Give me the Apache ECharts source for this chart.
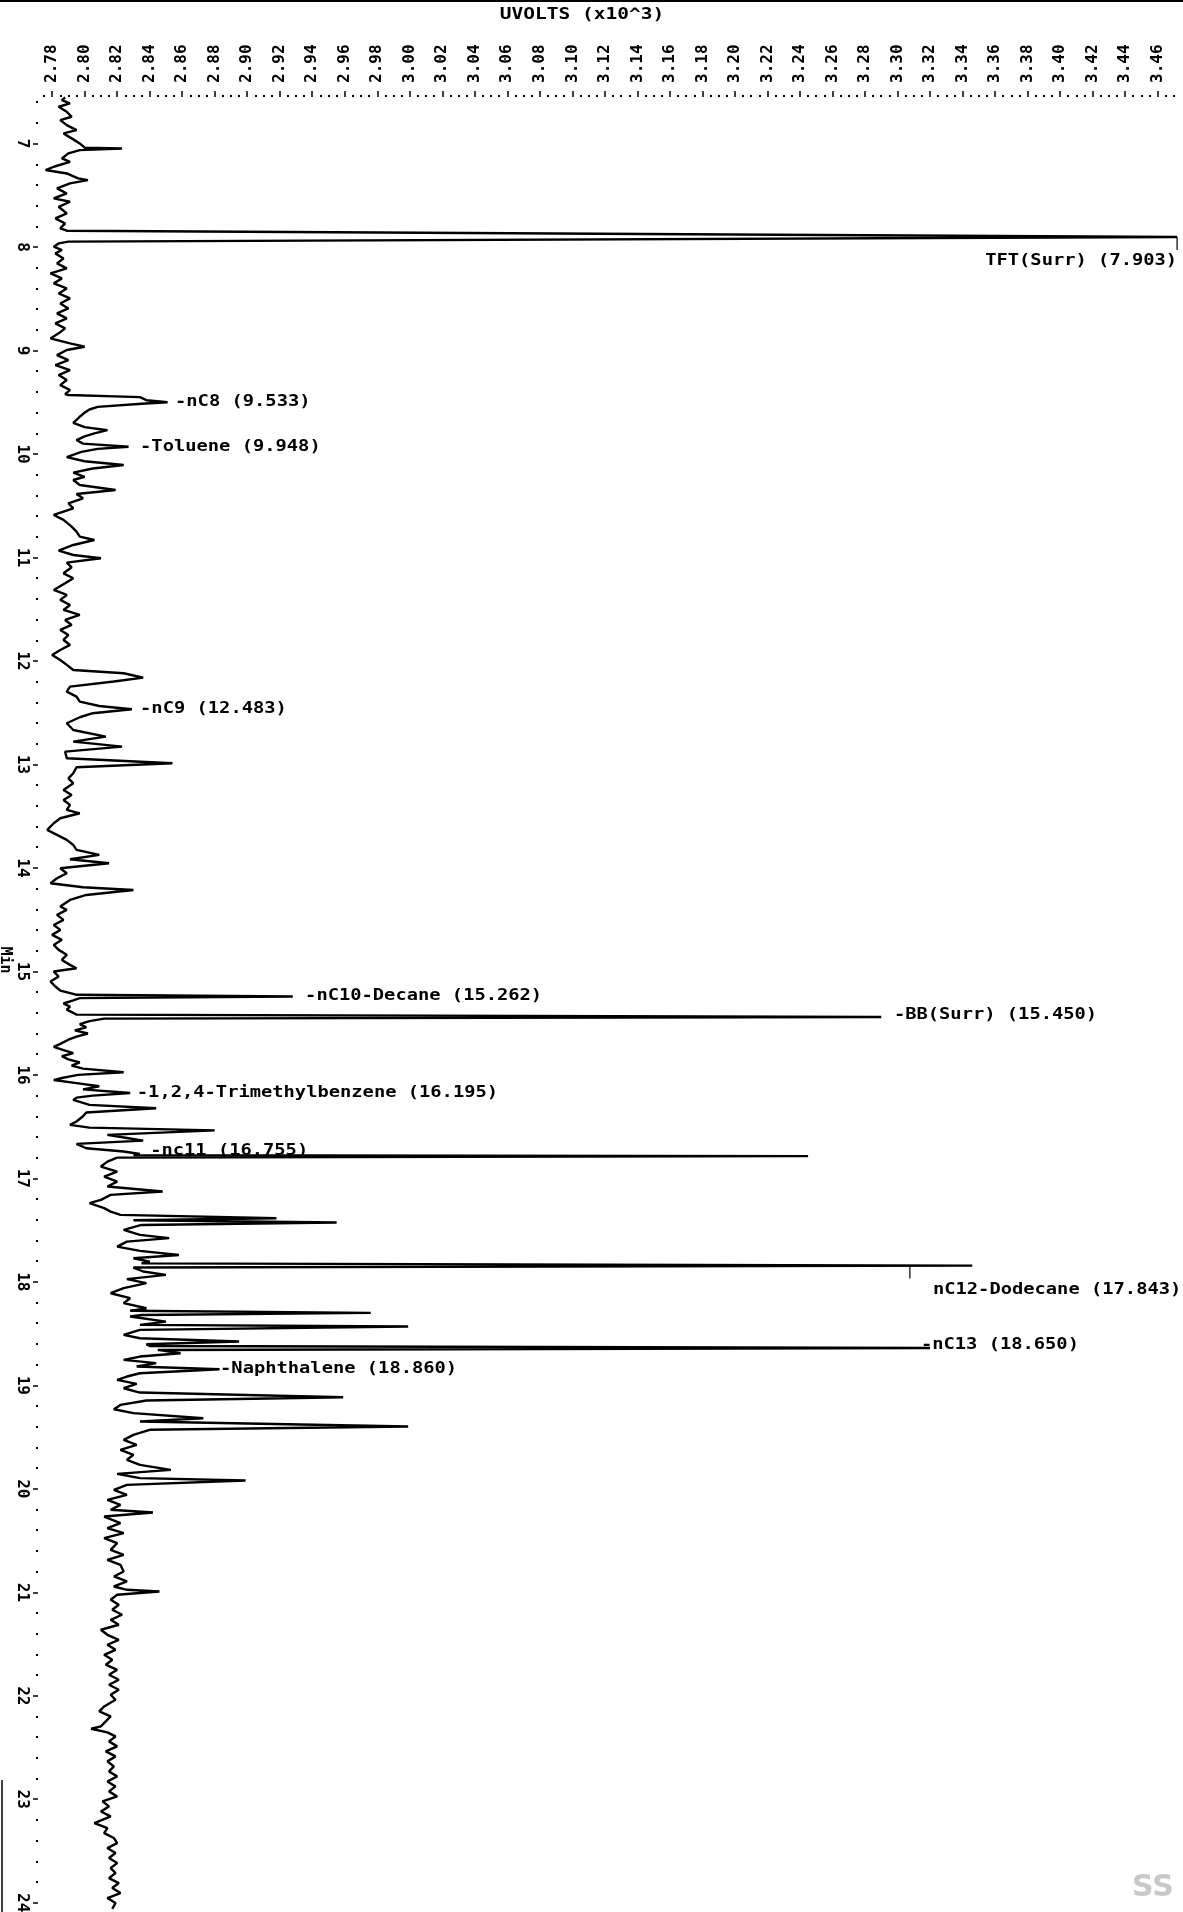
<!DOCTYPE html>
<html><head><meta charset="utf-8">
<script src="https://cdn.jsdelivr.net/npm/echarts@6/dist/echarts.min.js"></script>
<style>html,body{margin:0;padding:0;background:#fff}#c{width:1183px;height:1912px}</style>
</head><body><div id="c"></div>
<script>
// ---------------- data ----------------
const uvTickLabels = ['2.78','2.80','2.82','2.84','2.86','2.88','2.90','2.92','2.94','2.96','2.98','3.00','3.02','3.04','3.06','3.08','3.10','3.12','3.14','3.16','3.18','3.20','3.22','3.24','3.26','3.28','3.30','3.32','3.34','3.36','3.38','3.40','3.42','3.44','3.46'];
const minTickLabels = ['7','8','9','10','11','12','13','14','15','16','17','18','19','20','21','22','23','24'];

// chromatogram trace: [retention time (min), response (uV x10^3)]
const traceMinUv = [
[6.555,2.788],[6.580,2.786],[6.612,2.791],[6.644,2.784],[6.693,2.789],[6.741,2.792],[6.773,2.785],[6.822,2.789],[6.870,2.795],[6.902,2.787],[6.950,2.792],[6.999,2.797],[7.040,2.800],[7.047,2.823],[7.063,2.797],[7.095,2.790],[7.144,2.786],[7.176,2.791],[7.224,2.781],[7.256,2.776],[7.289,2.789],[7.337,2.796],[7.353,2.802],[7.385,2.791],[7.433,2.783],[7.482,2.789],[7.530,2.781],[7.562,2.791],[7.611,2.784],[7.675,2.789],[7.723,2.782],[7.772,2.788],[7.820,2.785],[7.842,2.789],
[7.852,2.790],[7.903,3.472],[7.948,2.790],
[7.965,2.784],[7.997,2.781],[8.029,2.786],[8.061,2.782],[8.110,2.787],[8.158,2.783],[8.206,2.789],[8.255,2.779],[8.303,2.786],[8.351,2.781],[8.400,2.789],[8.448,2.784],[8.496,2.791],[8.545,2.785],[8.593,2.790],[8.641,2.783],[8.689,2.789],[8.738,2.782],[8.786,2.788],[8.834,2.784],[8.883,2.779],[8.931,2.791],[8.963,2.800],[8.995,2.789],[9.044,2.783],[9.092,2.790],[9.140,2.782],[9.189,2.791],[9.237,2.784],[9.285,2.789],[9.334,2.785],[9.382,2.791],[9.421,2.788],
[9.430,2.790],[9.450,2.834],[9.480,2.838],[9.500,2.851],[9.515,2.835],[9.545,2.808],[9.570,2.803],[9.600,2.800],[9.640,2.797],[9.670,2.795],[9.700,2.793],[9.740,2.800],[9.770,2.814],[9.800,2.806],[9.830,2.800],[9.865,2.795],[9.900,2.799],[9.930,2.827],[9.950,2.808],[9.980,2.798],[10.030,2.789],[10.070,2.800],[10.106,2.824],[10.140,2.805],[10.180,2.793],[10.220,2.800],
[10.251,2.793],[10.299,2.797],[10.348,2.819],[10.386,2.795],[10.428,2.799],[10.476,2.790],[10.525,2.793],[10.589,2.781],[10.637,2.787],[10.702,2.792],[10.750,2.795],[10.799,2.797],[10.831,2.806],[10.879,2.793],[10.934,2.784],[10.976,2.793],[11.008,2.810],[11.050,2.789],[11.095,2.792],[11.153,2.787],[11.201,2.793],[11.249,2.788],[11.314,2.781],[11.362,2.789],[11.410,2.785],[11.459,2.791],[11.507,2.787],[11.555,2.797],[11.604,2.788],[11.652,2.792],[11.700,2.785],[11.749,2.790],[11.797,2.787],[11.845,2.791],[11.894,2.785],[11.942,2.780],[11.990,2.785],[12.038,2.789],[12.087,2.793],[12.119,2.824],[12.161,2.836],[12.199,2.818],[12.248,2.791],[12.296,2.789],[12.344,2.795],[12.393,2.797],[12.435,2.809],[12.467,2.829],[12.505,2.805],[12.544,2.797],[12.602,2.789],[12.667,2.793],[12.731,2.813],[12.779,2.793],[12.828,2.823],[12.876,2.788],[12.940,2.789],[12.989,2.854],[13.027,2.795],[13.085,2.793],[13.134,2.790],[13.182,2.793],[13.246,2.787],[13.295,2.792],[13.343,2.787],[13.391,2.791],[13.439,2.789],[13.472,2.797],[13.520,2.785],[13.568,2.781],[13.633,2.777],[13.681,2.783],[13.729,2.789],[13.778,2.793],[13.826,2.795],[13.874,2.809],[13.916,2.791],[13.955,2.815],[14.003,2.785],[14.051,2.789],[14.100,2.783],[14.148,2.779],[14.187,2.799],[14.213,2.830],[14.261,2.801],[14.309,2.791],[14.373,2.785],
[14.406,2.789],[14.454,2.783],[14.502,2.787],[14.551,2.781],[14.599,2.785],[14.647,2.780],[14.695,2.786],[14.744,2.781],[14.792,2.784],[14.840,2.789],[14.889,2.786],[14.937,2.791],[14.969,2.795],[15.001,2.781],[15.050,2.784],[15.098,2.779],[15.146,2.782],[15.185,2.785],[15.217,2.793],
[15.226,2.795],[15.243,2.928],[15.258,2.797],
[15.280,2.793],[15.310,2.787],[15.340,2.791],[15.370,2.789],[15.400,2.793],
[15.418,2.795],[15.440,3.290],[15.456,2.812],
[15.480,2.803],[15.510,2.797],[15.540,2.801],[15.570,2.794],[15.600,2.802],[15.630,2.795],[15.660,2.790],[15.700,2.785],[15.730,2.781],[15.760,2.787],[15.790,2.793],[15.820,2.786],[15.850,2.790],[15.880,2.797],[15.910,2.792],[15.940,2.799],[15.975,2.824],[16.000,2.796],[16.030,2.786],[16.050,2.781],[16.080,2.795],[16.110,2.809],[16.140,2.799],[16.175,2.828],[16.200,2.805],[16.220,2.795],[16.242,2.793],[16.290,2.803],[16.322,2.844],[16.364,2.801],[16.400,2.799],[16.450,2.795],[16.483,2.791],[16.510,2.803],[16.536,2.880],[16.580,2.814],[16.610,2.826],[16.635,2.836],[16.667,2.795],[16.709,2.801],[16.741,2.824],[16.764,2.834],
[16.775,2.830],[16.785,3.245],[16.800,2.820],
[16.838,2.814],[16.886,2.810],[16.934,2.820],[16.983,2.812],[17.031,2.820],[17.079,2.814],[17.127,2.848],[17.160,2.816],[17.208,2.810],[17.240,2.803],[17.288,2.812],[17.321,2.816],[17.353,2.822],[17.385,2.918],[17.405,2.830],[17.427,2.955],[17.450,2.835],[17.498,2.824],[17.546,2.834],[17.578,2.852],[17.611,2.826],[17.659,2.820],[17.701,2.834],[17.740,2.858],[17.772,2.830],[17.804,2.840],
[17.822,2.835],[17.843,3.346],[17.862,2.830],
[17.900,2.836],[17.933,2.850],[17.974,2.826],[18.013,2.838],[18.061,2.824],[18.110,2.816],[18.158,2.828],[18.206,2.824],[18.255,2.838],[18.280,2.828],[18.300,2.976],[18.320,2.835],[18.335,2.828],[18.384,2.850],[18.416,2.834],[18.432,2.999],[18.464,2.834],[18.513,2.824],[18.545,2.834],[18.577,2.895],[18.603,2.838],
[18.620,2.840],[18.640,3.320],[18.658,2.845],
[18.690,2.859],[18.722,2.834],[18.754,2.824],[18.786,2.844],[18.818,2.832],[18.844,2.883],[18.883,2.834],[18.915,2.826],[18.947,2.820],[18.986,2.832],[19.028,2.824],[19.070,2.834],[19.115,2.959],[19.147,2.838],[19.189,2.822],[19.231,2.818],[19.269,2.830],[19.318,2.873],[19.350,2.834],[19.398,2.999],[19.430,2.840],[19.479,2.830],[19.527,2.824],[19.575,2.832],[19.624,2.822],[19.672,2.830],[19.720,2.826],[19.769,2.834],[19.817,2.853],[19.856,2.820],[19.897,2.834],[19.920,2.899],[19.962,2.826],[20.010,2.818],[20.058,2.826],[20.107,2.814],[20.155,2.822],[20.203,2.816],[20.229,2.842],[20.268,2.812],[20.332,2.822],[20.380,2.814],[20.429,2.824],[20.477,2.812],[20.525,2.820],[20.590,2.816],[20.638,2.824],[20.686,2.814],[20.735,2.822],
[20.799,2.824],[20.847,2.818],[20.895,2.826],[20.944,2.818],[20.976,2.826],[20.992,2.846],[21.024,2.820],[21.072,2.816],[21.121,2.821],[21.169,2.817],[21.217,2.823],[21.266,2.816],[21.314,2.821],[21.362,2.810],[21.411,2.814],[21.459,2.821],[21.507,2.814],[21.556,2.819],[21.604,2.812],[21.652,2.817],[21.700,2.813],[21.749,2.820],[21.797,2.815],[21.845,2.821],[21.894,2.815],[21.942,2.821],[21.990,2.816],[22.039,2.819],[22.103,2.812],[22.151,2.809],[22.200,2.816],[22.248,2.813],[22.296,2.810],[22.319,2.804],[22.354,2.814],[22.393,2.819],[22.441,2.815],[22.489,2.820],[22.538,2.813],[22.586,2.819],[22.634,2.814],[22.683,2.818],[22.731,2.815],[22.779,2.820],[22.828,2.814],[22.876,2.819],[22.924,2.815],[22.973,2.820],[23.021,2.811],[23.069,2.815],[23.118,2.810],[23.166,2.816],[23.230,2.806],[23.279,2.814],[23.327,2.812],[23.375,2.818],[23.424,2.820],[23.472,2.814],[23.520,2.819],[23.568,2.815],[23.617,2.820],[23.665,2.816],[23.713,2.819],[23.762,2.815],[23.810,2.821],[23.858,2.817],[23.907,2.822],[23.955,2.814],[24.003,2.819],[24.060,2.817]
];

// peak annotations
const peakLabels   = ['TFT(Surr) (7.903)','-nC8 (9.533)','-Toluene (9.948)','-nC9 (12.483)','-nC10-Decane (15.262)','-BB(Surr) (15.450)','-1,2,4-Trimethylbenzene (16.195)','-nc11 (16.755)','nC12-Dodecane (17.843)','-nC13 (18.650)','-Naphthalene (18.860)'];
const peakLabelMin = [8.135, 9.500, 9.929, 12.467, 15.243, 15.425, 16.177, 16.735, 18.078, 18.610, 18.844];
const peakLabelUv  = [3.472, 2.8556, 2.8341, 2.8341, 2.9356, 3.2978, 2.8321, 2.8403, 3.3218, 3.3144, 2.8833];
const peakLabelAnchor = ['right','left','left','left','left','left','left','left','left','left','left'];
// small vertical tip markers [min, uV]
const tipMarkers = [[7.903, 3.472],[17.843, 3.3076]];

// ---------------- chart ----------------
const MONO = "'DejaVu Sans Mono', monospace";
const uvMajor = uvTickLabels.map(Number);
const uvMinor = [2.775];
for (let i = 0; i < uvMajor.length - 1; i++) for (let k = 1; k < 4; k++) uvMinor.push(+(uvMajor[i] + k * 0.005).toFixed(3));
uvMinor.push(3.465, 3.47);
const minMajor = minTickLabels.map(Number);
const minMinor = [];
for (let i = 6; i < 24; i++) for (let k = 1; k < 5; k++) { const v = +(i + k * 0.2).toFixed(1); if (v > 6.55) minMinor.push(v); }

const X0 = 2.775, X1 = 3.475, Y0 = 6.55, Y1 = 24.08;
const chart = echarts.init(document.getElementById('c'), null, { width: 1183, height: 1912 });
const axX = (extra) => Object.assign({
  type: 'value', position: 'top', min: X0, max: X1,
  axisLine: { show: false }, splitLine: { show: false }
}, extra);
const axY = (extra) => Object.assign({
  type: 'value', position: 'left', inverse: true, min: Y0, max: Y1, offset: 6,
  axisLine: { show: false }, splitLine: { show: false }
}, extra);

chart.setOption({
  animation: false,
  backgroundColor: '#fff',
  grid: { left: 44, right: 1, top: 97, bottom: 1, containLabel: false, outerBoundsMode: 'none' },
  xAxis: [
    axX({
      axisTick: { customValues: uvMajor, length: 6, lineStyle: { color: '#000', width: 1.5 } },
      axisLabel: { customValues: uvMajor, rotate: -90, margin: 14, color: '#000', fontFamily: MONO, fontSize: 16, fontWeight: 'bold',
                   formatter: v => v.toFixed(2) }
    }),
    axX({
      axisTick: { customValues: uvMinor, length: 2, lineStyle: { color: '#000', width: 2 } },
      axisLabel: { show: false }
    })
  ],
  yAxis: [
    axY({
      axisTick: { customValues: minMajor, length: 5, lineStyle: { color: '#000', width: 1.5 } },
      axisLabel: { customValues: minMajor, rotate: -90, margin: 8, color: '#000', fontFamily: MONO, fontSize: 16, fontWeight: 'bold',
                   formatter: v => String(Math.round(v)) }
    }),
    axY({
      axisTick: { customValues: minMinor, length: 2, lineStyle: { color: '#000', width: 2 } },
      axisLabel: { show: false }
    })
  ],
  series: [
    {
      type: 'line', xAxisIndex: 0, yAxisIndex: 0, showSymbol: false, silent: true,
      lineStyle: { color: '#000', width: 2.4 },
      data: traceMinUv.map(p => [p[1], p[0]])
    },
    {
      type: 'scatter', xAxisIndex: 0, yAxisIndex: 0, silent: true,
      symbol: 'rect', symbolSize: [1.5, 13], symbolOffset: [0, 6.5],
      itemStyle: { color: '#000' },
      data: tipMarkers.map(p => [p[1], p[0]])
    }
  ]
});

const g = [];
peakLabels.forEach((txt, i) => {
  const p = chart.convertToPixel({ seriesIndex: 0 }, [peakLabelUv[i], peakLabelMin[i]]);
  g.push({
    type: 'text', x: p[0], y: p[1], scaleX: 1.25, silent: true,
    style: { text: txt, fill: '#000', fontFamily: MONO, fontSize: 15, fontWeight: 'bold',
             align: peakLabelAnchor[i], verticalAlign: 'middle' }
  });
});
g.push({ type: 'text', x: 582, y: 15, scaleX: 1.3, silent: true,
  style: { text: 'UVOLTS (x10^3)', fill: '#000', fontFamily: MONO, fontSize: 15, fontWeight: 'bold', align: 'center', verticalAlign: 'middle' } });
g.push({ type: 'text', x: 5, y: 960, rotation: -Math.PI / 2, silent: true,
  style: { text: 'Min', fill: '#000', fontFamily: MONO, fontSize: 15, fontWeight: 'bold', align: 'center', verticalAlign: 'middle' } });
g.push({ type: 'line', silent: true, shape: { x1: 0, y1: 1, x2: 1183, y2: 1 }, style: { stroke: '#000', lineWidth: 2 } });
g.push({ type: 'line', silent: true, shape: { x1: 2, y1: 1780, x2: 2, y2: 1912 }, style: { stroke: '#000', lineWidth: 1.5 } });
g.push({ type: 'text', x: 1132, y: 1888, silent: true,
  style: { text: 'SS', fill: '#c8c8c8', fontFamily: 'DejaVu Sans', fontWeight: 'bold', fontSize: 30, align: 'left', verticalAlign: 'middle' } });
chart.setOption({ graphic: g });
</script>
</body></html>
